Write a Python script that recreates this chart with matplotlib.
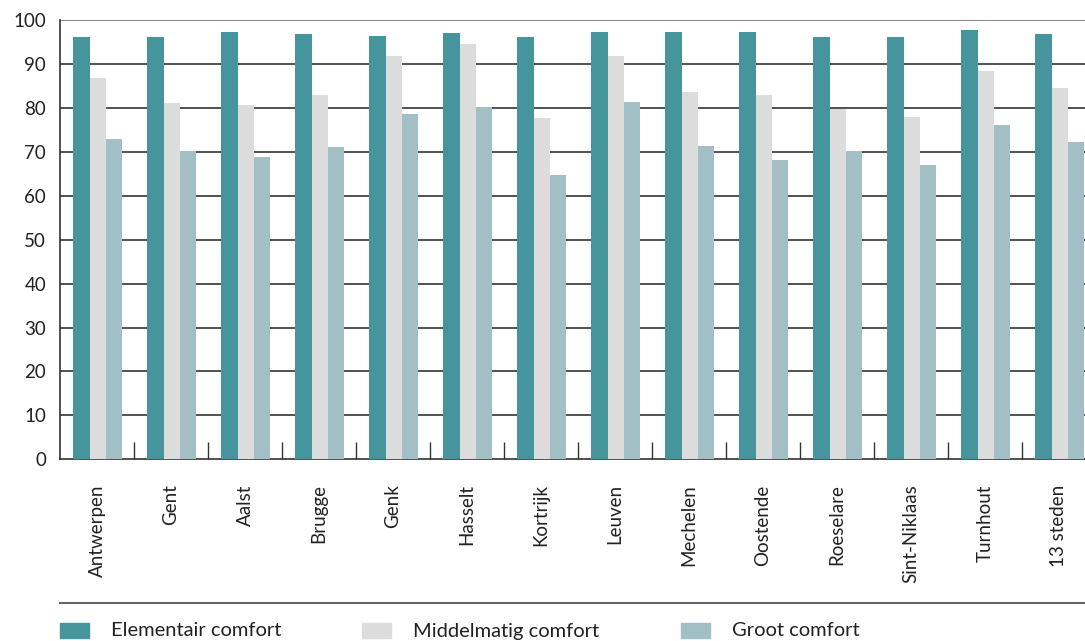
import matplotlib
matplotlib.use("Agg")
import matplotlib.pyplot as plt
from matplotlib.patches import Rectangle
from matplotlib.lines import Line2D
import numpy as np

plt.rcParams['font.family'] = ['Lato', 'DejaVu Sans']

categories = ["Antwerpen", "Gent", "Aalst", "Brugge", "Genk", "Hasselt", "Kortrijk",
              "Leuven", "Mechelen", "Oostende", "Roeselare", "Sint-Niklaas", "Turnhout", "13 steden"]
elementair = [96.2, 96.2, 97.3, 96.9, 96.4, 97.1, 96.2, 97.3, 97.3, 97.3, 96.2, 96.2, 97.8, 96.9]
middelmatig = [86.9, 81.2, 80.7, 83.0, 91.7, 94.6, 77.6, 91.7, 83.5, 83.0, 79.8, 78.0, 88.3, 84.6]
groot = [72.8, 70.1, 68.9, 71.2, 78.5, 80.1, 64.8, 81.4, 71.4, 68.2, 70.1, 67.1, 76.0, 72.3]
series_names = ["Elementair comfort", "Middelmatig comfort", "Groot comfort"]
colors = ["#46949c", "#dcdcdc", "#a3bfc6"]
yticks = [0, 10, 20, 30, 40, 50, 60, 70, 80, 90, 100]

W, H = 1085, 641
fig = plt.figure(figsize=(W / 100, H / 100), dpi=100)
left, right, top, bottom = 60, 60 + 14 * 74, 20, 459.3
ax = fig.add_axes([left / W, (H - bottom) / H, (right - left) / W, (bottom - top) / H])

x = np.arange(len(categories))
bw = 0.222
for i, (vals, c) in enumerate(zip([elementair, middelmatig, groot], colors)):
    ax.bar(x + 0.01 + (i - 1) * bw, vals, width=bw, color=c, zorder=3, linewidth=0)

ax.set_xlim(-0.5, len(categories) - 0.5)
ax.set_ylim(0, 100)
ax.set_yticks(yticks)
ax.tick_params(axis='y', length=0, labelsize=13.5, pad=10, colors='#222222')
for yv in yticks[1:]:
    ax.axhline(yv, color='#777777' if yv == 100 else '#333333', lw=1.2, zorder=1)

ax.set_xticks(x)
ax.set_xticklabels(categories, rotation=90, fontsize=13.5, color='#222222')
ax.tick_params(axis='x', which='major', length=0, pad=18)
ax.set_xticks(np.arange(len(categories) - 1) + 0.5, minor=True)
ax.tick_params(axis='x', which='minor', direction='in', length=12, width=1, color='#333333')

for s in ['top', 'right']:
    ax.spines[s].set_visible(False)
ax.spines['left'].set_color('#333333')
ax.spines['bottom'].set_color('#333333')
ax.spines['left'].set_linewidth(1.2)
ax.spines['bottom'].set_linewidth(1.2)

# separator line and legend
fig.add_artist(Line2D([60 / W, 1.0], [(H - 603) / H] * 2, color='#666666', lw=1.5))
leg_x = [60, 362, 681]
for name, c, lx in zip(series_names, colors, leg_x):
    fig.add_artist(Rectangle((lx / W, (H - 638) / H), 29 / W, 15 / H, color=c,
                             transform=fig.transFigure))
    fig.text((lx + 51) / W, (H - 631) / H, name, fontsize=14.5, va='center', ha='left',
             color='#222222')

fig.savefig("out.png", dpi=100)
